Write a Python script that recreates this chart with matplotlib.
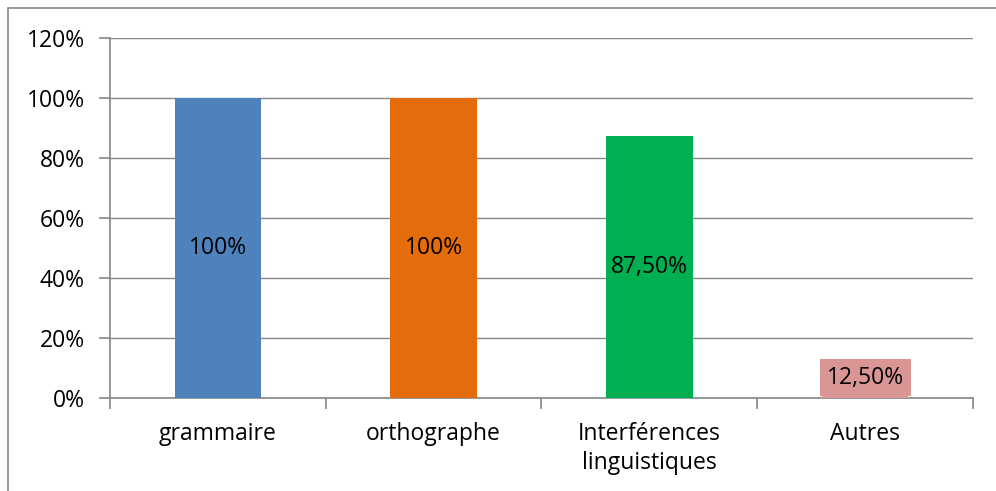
import matplotlib.pyplot as plt
from matplotlib.patches import Rectangle
from matplotlib.ticker import FuncFormatter
import numpy as np

categories = ["grammaire", "orthographe", "Interférences\nlinguistiques", "Autres"]
values = [100, 100, 87.5, 12.5]
value_labels = ["100%", "100%", "87,50%", "12,50%"]
colors = ["#4F81BD", "#E46C0A", "#00B050", "#D99694"]

plt.rcParams['font.family'] = ['Open Sans', 'DejaVu Sans']
FS = 16.5

fig = plt.figure(figsize=(9.96, 4.91), dpi=100)
ax = fig.add_axes([0.1104, 0.1894, 0.8665, 0.7332])

# outer chart frame (right and bottom run off the canvas)
fig.patches.append(Rectangle((8 / 996, -0.05), 1.2, 1 - 8 / 491 + 0.05,
                             transform=fig.transFigure, fill=False,
                             edgecolor="#868686", linewidth=1.2))

x = np.arange(len(categories))
bars = ax.bar(x, values, width=0.4, color=colors, zorder=3)

for i, (b, v, lab) in enumerate(zip(bars, values, value_labels)):
    if i == len(values) - 1:
        ax.text(b.get_x() + b.get_width() / 2, 6.8, lab, ha="center", va="center",
                fontsize=FS, zorder=4,
                bbox=dict(boxstyle="square,pad=0.3", facecolor=colors[i], edgecolor="none"))
    else:
        ax.text(b.get_x() + b.get_width() / 2, v / 2, lab, ha="center", va="center",
                fontsize=FS, zorder=4)

ax.set_xlim(-0.5, len(categories) - 0.5)
ax.set_ylim(0, 120)
ax.set_yticks(np.arange(0, 121, 20))
ax.yaxis.set_major_formatter(FuncFormatter(lambda v, p: f"{int(v)}%"))
ax.grid(axis="y", color="#868686", linewidth=1.0, zorder=0)

ax.set_xticks(x)
ax.set_xticklabels(categories, fontsize=FS, linespacing=1.3)
ax.tick_params(axis="x", length=0, pad=17)
ax.set_xticks(np.arange(-0.5, len(categories), 1), minor=True)
ax.tick_params(axis="x", which="minor", length=8, color="#868686", width=1.2)
ax.tick_params(axis="y", length=8, color="#868686", width=1.2, labelsize=FS, pad=10)

for side in ["top", "right"]:
    ax.spines[side].set_visible(False)
for side in ["left", "bottom"]:
    ax.spines[side].set_color("#868686")
    ax.spines[side].set_linewidth(1.2)

fig.savefig("out.png", dpi=100)
